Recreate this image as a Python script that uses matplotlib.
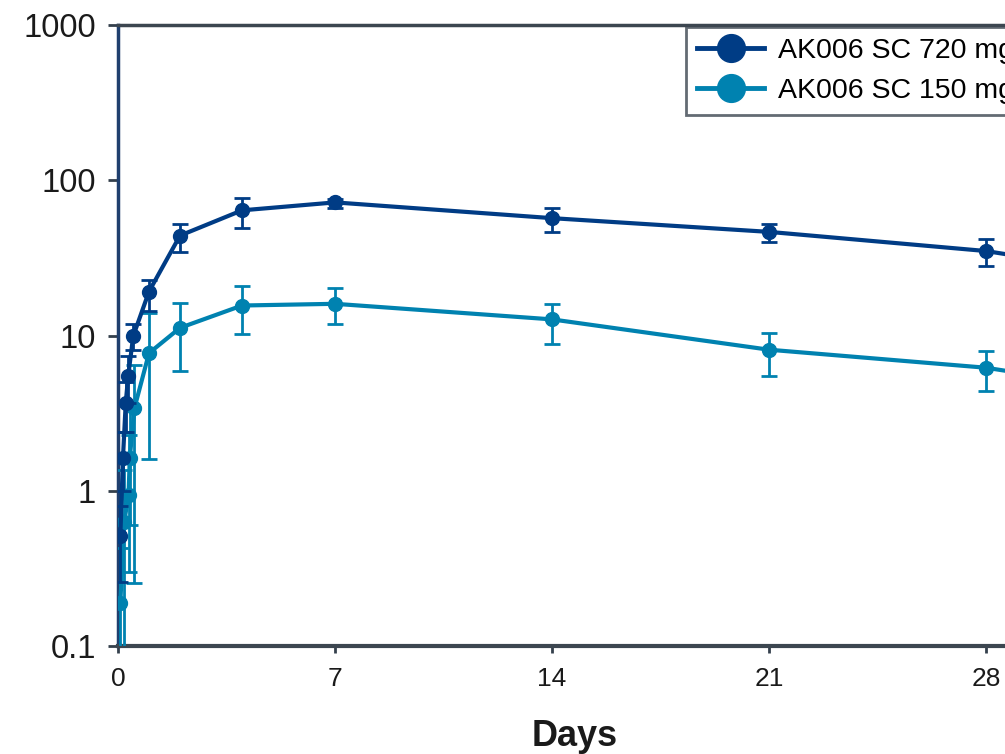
import matplotlib
matplotlib.use("Agg")
import matplotlib.pyplot as plt
import numpy as np
from matplotlib.lines import Line2D
from matplotlib.ticker import FixedLocator, FixedFormatter, NullLocator

plt.rcParams['font.family'] = ['Liberation Sans', 'DejaVu Sans']

# Data (days, concentration)
navy_t = [0.075, 0.16, 0.25, 0.33, 0.49, 1.0, 2, 4, 7, 14, 21, 28, 35]
navy_y = [0.51, 1.62, 3.7, 5.5, 9.9, 19.2, 44, 64, 72, 57, 46.5, 35, 21]
navy_lo = [0.26, 1.0, 2.4, 3.7, 8.05, 14.3, 34.4, 49, 66.5, 46.4, 40, 28, 16]
navy_hi = [0.8, 2.38, 5.0, 7.35, 11.8, 22.7, 52, 76.5, 76, 66, 52, 42, 27]

cyan_t = [0.075, 0.2, 0.34, 0.38, 0.53, 1.0, 2, 4, 7, 14, 21, 28, 35]
cyan_y = [0.19, 0.63, 0.94, 1.62, 3.4, 7.7, 11.2, 15.6, 16.0, 12.7, 8.1, 6.2, 3.75]
cyan_lo = [0.05, 0.05, 0.3, 0.6, 0.256, 1.61, 5.95, 10.2, 11.8, 8.8, 5.45, 4.4, 2.5]
cyan_hi = [0.43, 1.37, 2.3, 3.5, 6.5, 13.9, 16.3, 20.7, 20.2, 15.9, 10.4, 8.0, 5.5]

labels = ["AK006 SC 720 mg", "AK006 SC 150 mg"]
x_ticks = [0, 7, 14, 21, 28, 35]
y_ticks = [0.1, 1, 10, 100, 1000]
y_ticklabels = ["0.1", "1", "10", "100", "1000"]

navy = "#003C85"
cyan = "#0082B0"

W, H = 1005, 754
fig = plt.figure(figsize=(W / 100, H / 100), dpi=100)
ax = fig.add_axes([118 / W, 1 - 646 / H, (W - 118) / W, (646 - 25) / H])

def draw(t, y, lo, hi, color, z):
    t = np.array(t); y = np.array(y); lo = np.array(lo); hi = np.array(hi)
    yerr = [y - lo, hi - y]
    ax.errorbar(t, y, yerr=yerr, color=color, lw=3.0, marker='o', ms=10,
                elinewidth=2.0, capsize=6, capthick=2.0, zorder=z)

draw(cyan_t, cyan_y, cyan_lo, cyan_hi, cyan, 3)
draw(navy_t, navy_y, navy_lo, navy_hi, navy, 4)

ax.set_yscale('log')
ax.set_ylim(0.1, 1000)
ax.set_xlim(0, (W - 118) / 31.0)
ax.yaxis.set_major_locator(FixedLocator(y_ticks))
ax.yaxis.set_major_formatter(FixedFormatter(y_ticklabels))
ax.yaxis.set_minor_locator(NullLocator())
ax.xaxis.set_major_locator(FixedLocator(x_ticks))
ax.set_xticklabels([str(v) for v in x_ticks])

ax.tick_params(axis='y', labelsize=23.5, length=7, width=2.0, color='#34404C',
               pad=9, labelcolor='#1a1a1a')
ax.tick_params(axis='x', labelsize=19, length=5, width=2.0, color='#34404C',
               pad=10, labelcolor='#1a1a1a')

ax.spines['right'].set_visible(False)
ax.spines['left'].set_color('#1F3F6E')
ax.spines['left'].set_linewidth(2.5)
ax.spines['bottom'].set_color('#3C4650')
ax.spines['bottom'].set_linewidth(3)
ax.spines['top'].set_color('#3C4650')
ax.spines['top'].set_linewidth(2.5)

ax.set_xlabel("Days", fontsize=26, fontweight='bold', color='#1a1a1a', va='top')
ax.xaxis.set_label_coords((575 - 118) / (W - 118), -0.118)

handles = [Line2D([], [], color=navy, lw=3.5, marker='o', ms=20),
           Line2D([], [], color=cyan, lw=3.5, marker='o', ms=20)]
leg = fig.legend(handles, labels,
                 loc='upper left', bbox_to_anchor=(686 / W, 1 - 27 / H),
                 fontsize=20.5, frameon=True, fancybox=False,
                 handlelength=2.35, handletextpad=0.5, borderpad=0.39,
                 labelspacing=0.5, borderaxespad=0)
leg.get_frame().set_edgecolor('#3C4650')
leg.get_frame().set_linewidth(2)

fig.savefig("out.png", dpi=100)
